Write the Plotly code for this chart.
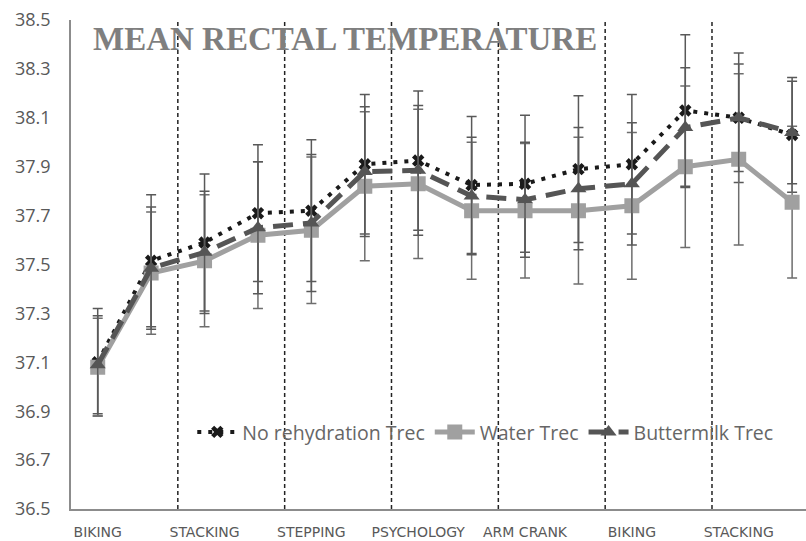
import plotly.graph_objects as go

# ---- data ----
categories = ["BIKING", "STACKING", "STEPPING", "PSYCHOLOGY", "ARM CRANK", "BIKING", "STACKING"]
points_per_category = 2

no_rehydration = [37.10, 37.515, 37.59, 37.71, 37.72, 37.91, 37.925, 37.825, 37.83, 37.89, 37.91, 38.13, 38.10, 38.03]
water = [37.08, 37.465, 37.515, 37.62, 37.64, 37.82, 37.83, 37.72, 37.72, 37.72, 37.74, 37.90, 37.93, 37.755]
buttermilk = [37.09, 37.485, 37.55, 37.65, 37.67, 37.88, 37.885, 37.78, 37.765, 37.81, 37.83, 38.06, 38.10, 38.04]

no_rehydration_err = [0.22, 0.27, 0.28, 0.28, 0.29, 0.285, 0.285, 0.28, 0.28, 0.30, 0.285, 0.31, 0.265, 0.235]
water_err = [0.20, 0.25, 0.27, 0.30, 0.30, 0.305, 0.305, 0.28, 0.275, 0.30, 0.30, 0.33, 0.35, 0.31]
buttermilk_err = [0.20, 0.25, 0.25, 0.27, 0.28, 0.265, 0.265, 0.24, 0.235, 0.25, 0.25, 0.245, 0.22, 0.21]

y_ticks = [36.5, 36.7, 36.9, 37.1, 37.3, 37.5, 37.7, 37.9, 38.1, 38.3, 38.5]

x = list(range(len(no_rehydration)))
tick_positions = x[::points_per_category]
separators = [p + points_per_category - 0.5 for p in tick_positions[:-1]]

ERR_COLOR = "#595959"

fig = go.Figure()

fig.add_trace(go.Scatter(
    x=x, y=no_rehydration, name="No rehydration Trec", mode="lines+markers",
    line=dict(color="#1a1a1a", width=4, dash="4px,7px"),
    marker=dict(symbol="x", size=11, color="#1a1a1a"),
    error_y=dict(type="data", array=no_rehydration_err, visible=True,
                 color=ERR_COLOR, thickness=1.5, width=5),
))
fig.add_trace(go.Scatter(
    x=x, y=water, name="Water Trec", mode="lines+markers",
    line=dict(color="#a0a0a0", width=5),
    marker=dict(symbol="square", size=13, color="#a0a0a0",
                line=dict(color="#a0a0a0", width=2)),
    error_y=dict(type="data", array=water_err, visible=True,
                 color="#6e6e6e", thickness=1.5, width=5),
))
fig.add_trace(go.Scatter(
    x=x, y=buttermilk, name="Buttermilk Trec", mode="lines+markers",
    line=dict(color="#555555", width=5, dash="20px,10px"),
    marker=dict(symbol="triangle-up", size=14, color="#555555"),
    error_y=dict(type="data", array=buttermilk_err, visible=True,
                 color=ERR_COLOR, thickness=1.5, width=5),
))

for s in separators:
    fig.add_shape(type="line", xref="x", yref="paper", x0=s, x1=s, y0=0, y1=1,
                  line=dict(color="#222222", width=1.5, dash="4px,3px"), layer="below")

fig.add_annotation(
    text="<b>MEAN RECTAL TEMPERATURE</b>", xref="paper", yref="paper",
    x=0.027, y=0.961, xanchor="left", yanchor="middle", showarrow=False,
    font=dict(family="Liberation Serif", size=33, color="#7f7f7f"),
)

fig.update_layout(
    width=806, height=541,
    margin=dict(l=71, r=0, t=20, b=32),
    paper_bgcolor="white", plot_bgcolor="white",
    font=dict(family="Open Sans", color="#595959"),
    showlegend=True,
    legend=dict(orientation="h", x=0.165, y=0.157, xanchor="left", yanchor="middle",
                font=dict(family="Open Sans", size=19.5, color="#666666"),
                bgcolor="rgba(0,0,0,0)", itemwidth=40, tracegroupgap=0),
    xaxis=dict(range=[-0.5, 13.26], tickmode="array", tickvals=tick_positions,
               ticktext=categories, showgrid=False, zeroline=False,
               showline=True, linecolor="#8c8c8c", linewidth=2, ticks="",
               tickfont=dict(family="DejaVu Sans", size=14, color="#595959"),
               ticklabelstandoff=9),
    yaxis=dict(range=[36.5, 38.5], tickmode="array", tickvals=y_ticks,
               ticktext=[f"{v:.1f}" for v in y_ticks], showgrid=False, zeroline=False,
               showline=True, linecolor="#8c8c8c", linewidth=1.5, ticks="",
               tickfont=dict(family="Open Sans", size=18, color="#595959"),
               ticklabelstandoff=15),
)

fig.write_html("out.html", config={"displayModeBar": False},
               post_script="document.body.style.margin='0';")
